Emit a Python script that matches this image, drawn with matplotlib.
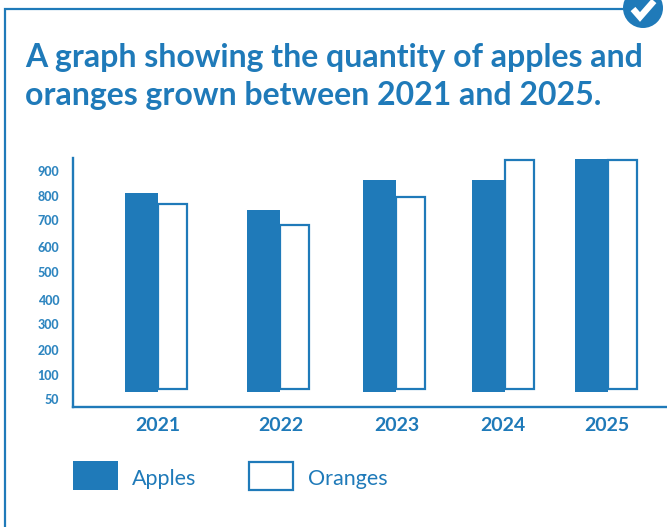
import matplotlib
matplotlib.use("Agg")
import matplotlib.pyplot as plt
import numpy as np
from matplotlib.patches import Circle, Rectangle

years = ["2021", "2022", "2023", "2024", "2025"]
apples = [812, 742, 864, 864, 950]
oranges = [767, 681, 796, 945, 945]
tick_values = [50, 100, 200, 300, 400, 500, 600, 700, 800, 900]

# the value axis is hand spaced and starts the bars above its lowest tick
apples_base = 64
oranges_base = 70
y_stops = [0, 50, 100, 200, 300, 400, 500, 600, 700, 800, 900, 1000]
y_heights = [-16, 8, 32, 57, 83, 107, 135, 160, 187, 211, 236, 261]

W, H = 667, 527
BLUE = "#1f7ab9"
TICK_BLUE = "#2f86c0"

plt.rcParams["font.family"] = ["Lato", "DejaVu Sans"]


def to_height(v):
    return np.interp(v, y_stops, y_heights)


def to_value(h):
    return np.interp(h, y_heights, y_stops)


def main():
    fig = plt.figure(figsize=(W / 100, H / 100), dpi=100, facecolor="white")

    # page furniture works in pixels, y pointing down
    page = fig.add_axes([0, 0, 1, 1])
    page.set_xlim(0, W)
    page.set_ylim(H, 0)
    page.axis("off")
    page.plot([5, 5, 622], [H, 9, 9], color=BLUE, lw=1.6, solid_joinstyle="miter")
    page.add_patch(Circle((643, 8), 20, color=BLUE, lw=0))
    page.plot([633, 640, 654], [9, 17, 1], color="white", lw=4.6,
              solid_joinstyle="miter", solid_capstyle="butt")

    page.text(25, 57, "A graph showing the quantity of apples and", color=BLUE,
              fontsize=23.0, fontweight="bold", va="center")
    page.text(25, 96, "oranges grown between 2021 and 2025.", color=BLUE,
              fontsize=23.0, fontweight="bold", va="center")

    page.add_patch(Rectangle((73, 461), 45, 29, facecolor=BLUE, edgecolor="none"))
    page.add_patch(Rectangle((249, 461.5), 44, 28, facecolor="white", edgecolor=BLUE, lw=1.6))
    page.text(132, 479, "Apples", color=BLUE, fontsize=15.5, va="center")
    page.text(308, 479, "Oranges", color=BLUE, fontsize=15.5, va="center")

    left, right, top, bottom = 73, 667, 158, 407
    ax = fig.add_axes([left / W, 1 - bottom / H, (right - left) / W, (bottom - top) / H])
    ax.patch.set_alpha(0)
    ax.set_yscale("function", functions=(to_height, to_value))
    ax.set_xlim(left, right)
    ax.set_ylim(to_value(0), to_value(249))

    # years sit unevenly along the axis
    centres = np.array([158, 280, 396, 505, 608])
    ax.bar(centres, np.array(oranges) - oranges_base, width=29, bottom=oranges_base,
           align="edge", facecolor="white", edgecolor=BLUE, linewidth=1.6, clip_on=False)
    ax.bar(centres - 33, np.array(apples) - apples_base, width=33, bottom=apples_base,
           align="edge", color=BLUE, clip_on=False)

    ax.set_yticks(tick_values, [str(v) for v in tick_values])
    ax.set_xticks([158, 281, 397, 503, 607], years)
    ax.minorticks_off()
    ax.tick_params(axis="y", length=0, pad=10, labelsize=9, labelcolor=TICK_BLUE)
    ax.tick_params(axis="x", length=0, pad=7.5, labelsize=14, labelcolor=BLUE)
    for label in ax.get_yticklabels():
        label.set_fontweight(900)
    for label in ax.get_xticklabels():
        label.set_fontweight("bold")

    ax.spines["top"].set_visible(False)
    ax.spines["right"].set_visible(False)
    for side in ("left", "bottom"):
        ax.spines[side].set_color(BLUE)
        ax.spines[side].set_linewidth(1.7)

    fig.savefig("out.png", dpi=100)


if __name__ == "__main__":
    main()
